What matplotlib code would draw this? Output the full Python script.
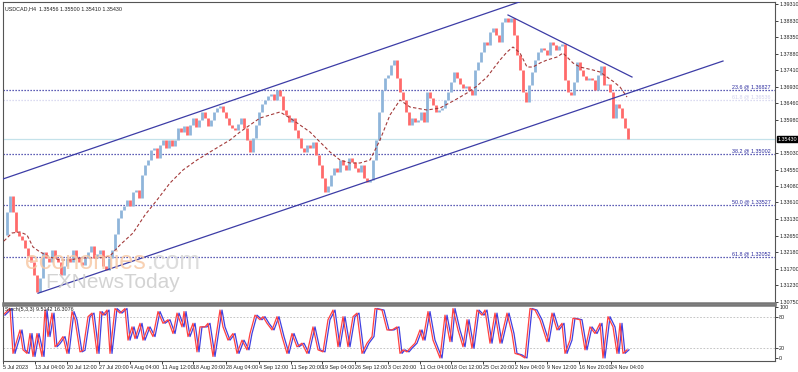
import numpy as np
import matplotlib
matplotlib.use('Agg')
import matplotlib.pyplot as plt
import matplotlib.transforms as mtransforms

plt.rcParams['font.family'] = ['Liberation Sans', 'DejaVu Sans']

# USDCAD H4 - candles sampled every 3 bars, x = bar index (1 bar = 1 px on the original)
close_prices = [
    1.32676, 1.33336, 1.33795, 1.33336, 1.32762, 1.32647, 1.32532, 1.32302, 1.32073, 1.31901,
    1.31528, 1.31040, 1.31441, 1.32188, 1.32015, 1.31901, 1.32245, 1.32015, 1.31901, 1.31528,
    1.31786, 1.32015, 1.31901, 1.32245, 1.32015, 1.31901, 1.31815, 1.32015, 1.32188, 1.32360,
    1.32015, 1.32130, 1.32245, 1.31786, 1.31671, 1.32015, 1.32245, 1.32704, 1.33163, 1.33393,
    1.33508, 1.33680, 1.33508, 1.33910, 1.33967, 1.33737, 1.34398, 1.34685, 1.34828, 1.35115,
    1.35172, 1.34885, 1.35259, 1.35402, 1.35172, 1.35402, 1.35230, 1.35402, 1.35746, 1.35632,
    1.35804, 1.35546, 1.35833, 1.36033, 1.35775, 1.35976, 1.36206, 1.36033, 1.35804, 1.35976,
    1.36206, 1.36320, 1.36378, 1.36206, 1.36033, 1.35833, 1.35746, 1.35689, 1.35861, 1.36033,
    1.35746, 1.35402, 1.35058, 1.35459, 1.35833, 1.36206, 1.36435, 1.36550, 1.36665, 1.36722,
    1.36550, 1.36837, 1.36665, 1.36263, 1.36120, 1.35919, 1.36033, 1.35689, 1.35459, 1.35172,
    1.35058, 1.35259, 1.35172, 1.35345, 1.34972, 1.34685, 1.34311, 1.33910, 1.34082, 1.34398,
    1.34598, 1.34484, 1.34828, 1.34685, 1.34541, 1.34885, 1.34771, 1.34598, 1.34484, 1.34685,
    1.34311, 1.34197, 1.34254, 1.34828, 1.35402, 1.36206, 1.36837, 1.37181, 1.37268, 1.37555,
    1.37698, 1.37181, 1.36780, 1.36550, 1.36206, 1.35833, 1.36033, 1.35919, 1.35976, 1.36206,
    1.35919, 1.36780, 1.36607, 1.36407, 1.36206, 1.36263, 1.36320, 1.36550, 1.36780, 1.37067,
    1.37354, 1.37181, 1.37009, 1.36894, 1.36952, 1.36837, 1.36694, 1.37411, 1.37641, 1.37928,
    1.38215, 1.38129, 1.38502, 1.38616, 1.38416, 1.38215, 1.38789, 1.38903, 1.38789, 1.38903,
    1.38416, 1.37842, 1.37411, 1.36780, 1.36493, 1.36981, 1.37354, 1.37698, 1.37928, 1.38042,
    1.37985, 1.37842, 1.38215, 1.38129, 1.37985, 1.38100, 1.38157, 1.37124, 1.36780, 1.36694,
    1.37067, 1.37641, 1.37411, 1.37239, 1.37124, 1.37181, 1.37124, 1.36837, 1.37268, 1.37526,
    1.36981, 1.37009, 1.36780, 1.36033, 1.36435, 1.36320, 1.36033, 1.35746, 1.35430,
]
bar_start = 4
bar_step = 3

# moving average (dashed)
ma_bars = [0, 5, 12, 20, 27, 33, 40, 50, 60, 70, 80, 90, 100, 110, 120, 133, 145, 157, 170, 183,
           197, 210, 220, 230, 240, 250, 260, 270, 280, 290, 300, 310, 320, 330, 340, 350, 360, 370,
           380, 390, 400, 410, 427, 440, 455, 467, 477, 487, 500, 507, 513, 520, 527, 533, 540, 547,
           557, 563, 573, 580, 593, 600, 607, 614, 620, 627]
ma_values = [1.32389, 1.32532, 1.32733, 1.32762, 1.32676, 1.32331, 1.32188, 1.32044, 1.31958, 1.31958,
             1.32015, 1.32015, 1.32015, 1.32073, 1.32389, 1.32733, 1.33250, 1.33680, 1.34168, 1.34541,
             1.34828, 1.35058, 1.35230, 1.35402, 1.35632, 1.35833, 1.36033, 1.36120, 1.36206, 1.36033,
             1.35833, 1.35632, 1.35345, 1.35058, 1.34828, 1.34742, 1.34742, 1.34828, 1.35402, 1.36120,
             1.36550, 1.36349, 1.36263, 1.36320, 1.36550, 1.36751, 1.36952, 1.37210, 1.37698, 1.37928,
             1.38071, 1.37899, 1.37497, 1.37497, 1.37612, 1.37698, 1.37784, 1.37899, 1.37612, 1.37497,
             1.37411, 1.37354, 1.37210, 1.37067, 1.36923, 1.36636]

# trend lines: (bar, price) end points
upper_channel = [(0, 1.34254), (525, 1.39420)]
lower_channel = [(38, 1.31004), (723, 1.37669)]
down_line = [(508, 1.38990), (632, 1.37210)]

fib_levels = [1.36827, 1.35002, 1.33527, 1.32052]
fib_labels = ['23.6 @ 1.36827', '38.2 @ 1.35002', '50.0 @ 1.33527', '61.8 @ 1.32052']
faint_level = 1.36536
faint_label = '61.8 @ 1.36536'
last_price = 1.35430

# Stochastic %K
stoch_bars = [3, 10, 13, 17, 20, 23, 27, 30, 33, 37, 42, 45, 48, 52, 55, 58, 63, 67, 72, 75,
              80, 83, 88, 92, 97, 100, 103, 107, 110, 115, 120, 125, 128, 132, 135, 140, 143, 148, 153, 158,
              163, 168, 173, 177, 182, 184, 188, 193, 197, 200, 205, 208, 213, 220, 223, 228, 233, 237, 242, 247,
              250, 255, 260, 263, 267, 272, 277, 282, 287, 292, 297, 302, 307, 310, 313, 318, 323, 328, 333, 338,
              343, 348, 353, 357, 362, 367, 372, 375, 382, 387, 392, 397, 400, 403, 407, 410, 415, 420, 423, 428,
              433, 440, 445, 450, 453, 458, 463, 467, 472, 477, 482, 485, 490, 495, 500, 507, 512, 515, 520, 525,
              530, 535, 540, 547, 552, 557, 562, 565, 570, 573, 580, 585, 590, 595, 600, 603, 608, 613, 617, 620,
              623, 627]
stoch_k = [84, 97, 9, 35, 55, 16, 9, 48, 3, 48, 3, 94, 42, 88, 22, 28, 42, 9, 91, 75,
           12, 15, 81, 88, 9, 91, 84, 94, 9, 97, 88, 97, 35, 61, 38, 68, 35, 61, 42, 91,
           68, 75, 48, 88, 61, 91, 42, 68, 12, 61, 61, 68, 3, 94, 61, 35, 48, 9, 35, 16,
           48, 84, 75, 81, 68, 55, 81, 42, 9, 48, 22, 29, 9, 35, 61, 16, 12, 75, 94, 22,
           81, 22, 81, 88, 9, 29, 42, 97, 94, 55, 55, 61, 9, 16, 12, 19, 29, 55, 35, 91,
           35, 0, 84, 32, 97, 55, 22, 75, 19, 94, 84, 94, 29, 88, 29, 88, 48, 9, 6, 0,
           97, 94, 75, 32, 88, 55, 68, 9, 35, 78, 75, 16, 61, 48, 68, 0, 81, 61, 9, 68,
           9, 16]

y_ticks = [1.39310, 1.38830, 1.38350, 1.37880, 1.37410, 1.36930, 1.36460, 1.35980, 1.35030,
           1.34550, 1.34080, 1.33610, 1.33130, 1.32650, 1.32180, 1.31700, 1.31230, 1.30750]
x_labels = ['5 Jul 2023', '13 Jul 04:00', '20 Jul 12:00', '27 Jul 20:00', '4 Aug 04:00',
            '11 Aug 12:00', '18 Aug 20:00', '28 Aug 04:00', '4 Sep 12:00', '11 Sep 20:00',
            '19 Sep 04:00', '26 Sep 12:00', '3 Oct 20:00', '11 Oct 04:00', '18 Oct 12:00',
            '25 Oct 20:00', '2 Nov 04:00', '9 Nov 12:00', '16 Nov 20:00', '24 Nov 04:00']
x_label_bars = [3, 35, 67, 99, 130, 162, 193, 226, 259, 291, 322, 355, 388, 420, 451, 483, 515, 547, 579, 611]

UP = '#8fb5da'
DOWN = '#ff6a6a'
LINE_BLUE = '#3c3ca6'
FIB_BLUE = '#2a2a9e'
FRAME = '#555555'
SMALL = 3.9

W, H = 798, 372
fig = plt.figure(figsize=(W / 100, H / 100), dpi=100)
ax = fig.add_axes([3 / W, 69 / H, 772 / W, 301 / H])
ax2 = fig.add_axes([3 / W, 11 / H, 772 / W, 56 / H])

# candles
closes = np.array(close_prices)
opens = np.concatenate([[closes[0]], closes[:-1]])
xs = bar_start + bar_step * np.arange(len(closes))
colors = [UP if c >= o else DOWN for o, c in zip(opens, closes)]
ax.vlines(xs, np.minimum(opens, closes), np.maximum(opens, closes), colors=colors, linewidth=2.0, zorder=3)

ax.plot(ma_bars, ma_values, color='#a33a3a', lw=0.8, ls=(0, (3, 2)), zorder=4)

for line in (upper_channel, lower_channel, down_line):
    ax.plot([line[0][0], line[1][0]], [line[0][1], line[1][1]], color=LINE_BLUE, lw=0.9, zorder=5)

for lvl, lab in zip(fib_levels, fib_labels):
    ax.axhline(lvl, color=FIB_BLUE, lw=0.9, ls=(0, (1, 1.4)), zorder=2)
    ax.text(771, lvl + 0.0002, lab, ha='right', va='bottom', fontsize=SMALL, color=FIB_BLUE, zorder=6)
ax.axhline(faint_level, color='#d0d0ec', lw=0.9, ls=(0, (1, 1.4)), zorder=1)
ax.text(771, faint_level + 0.0002, faint_label, ha='right', va='bottom', fontsize=SMALL, color='#d0d0ec')

ax.axhline(last_price, color='#c4e2ea', lw=0.9, zorder=1)

ax.set_xlim(3, 775)
ax.set_ylim(1.30724, 1.39363)
ax.yaxis.tick_right()
ax.set_yticks(y_ticks)
ax.set_yticklabels(['%.5f' % v for v in y_ticks])
ax.tick_params(axis='y', labelsize=SMALL, length=2, width=0.6, pad=1, colors='#222222')
ax.set_xticks([])
for s in ('left', 'top', 'right'):
    ax.spines[s].set_color(FRAME)
    ax.spines[s].set_linewidth(0.8)
ax.spines['bottom'].set_color('#777777')
ax.spines['bottom'].set_linewidth(1.8)

trans = mtransforms.blended_transform_factory(ax.transAxes, ax.transData)
ax.text(1.003, last_price, '1.35430', transform=trans, ha='left', va='center', fontsize=SMALL,
        color='white', bbox=dict(boxstyle='square,pad=0.15', fc='black', ec='black'), zorder=10)

ax.text(0.003, 0.985, 'USDCAD,H4  1.35456 1.35500 1.35410 1.35430', transform=ax.transAxes,
        ha='left', va='top', fontsize=SMALL, color='#222222')

# watermark
fig.text(25 / W, 1 - 269 / H, 'economies', fontsize=18, color='#f7c9a6', alpha=0.85,
         va='baseline', zorder=20)
fig.text(147 / W, 1 - 269 / H, '.com', fontsize=18, color='#d6d6d6', alpha=0.85,
         va='baseline', zorder=20)
fig.text(45 / W, 1 - 288 / H, 'FXNewsToday', fontsize=15, color='#cccccc', alpha=0.85,
         va='baseline', zorder=20)

# stochastic panel
sx = np.array(stoch_bars)
ax2.axhline(80, color='#bbbbbb', lw=0.6, ls=(0, (2, 2)))
ax2.axhline(20, color='#bbbbbb', lw=0.6, ls=(0, (2, 2)))
ax2.plot(sx + 2, stoch_k, color='#4040e0', lw=0.9)
ax2.plot(sx, stoch_k, color='#ff4040', lw=0.9)
ax2.set_xlim(3, 775)
ax2.set_ylim(-5.9, 103.9)
ax2.yaxis.tick_right()
ax2.set_yticks([100, 80, 20, 0])
ax2.tick_params(axis='y', labelsize=SMALL, length=2, width=0.6, pad=1, colors='#222222')
ax2.set_xticks(x_label_bars)
ax2.set_xticklabels(x_labels)
for lab in ax2.get_xticklabels():
    lab.set_ha('left')
ax2.tick_params(axis='x', labelsize=SMALL, length=2, width=0.6, pad=1, colors='#222222')
for s in ('left', 'bottom', 'right'):
    ax2.spines[s].set_color(FRAME)
    ax2.spines[s].set_linewidth(0.8)
ax2.spines['top'].set_color('#777777')
ax2.spines['top'].set_linewidth(1.8)
ax2.text(0.003, 0.97, 'Stoch(5,3,3) 9.5142 16.3076', transform=ax2.transAxes,
         ha='left', va='top', fontsize=SMALL, color='#222222')

fig.savefig('out.png', dpi=100)
